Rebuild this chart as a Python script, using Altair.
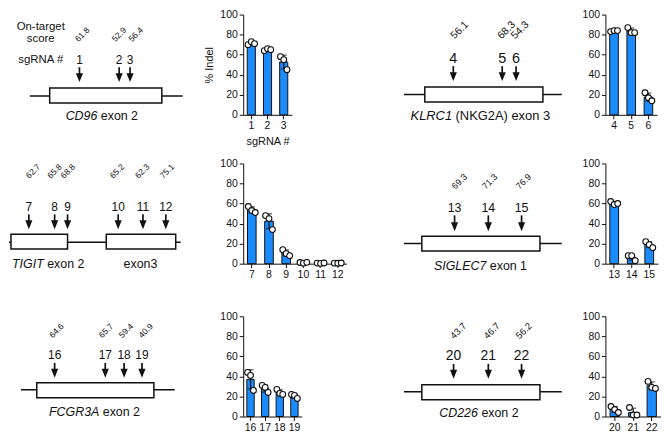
import altair as alt
import pandas as pd

FONT = "Liberation Sans"
BLUE = "#1A8CFF"
INK = "#111111"

# ---------------- data ----------------
cd96_sg = ["1", "2", "3"]
cd96_score = ["61.8", "52.9", "56.4"]
cd96_indel = [[70, 73, 71], [64, 66, 65], [58, 55, 45]]

klrc1_sg = ["4", "5", "6"]
klrc1_score = ["56.1", "68.3", "54.3"]
klrc1_indel = [[83, 84, 84], [87, 82, 82], [22, 17, 14]]

tigit_sg = ["7", "8", "9", "10", "11", "12"]
tigit_score = ["62.7", "65.8", "68.8", "65.2", "62.3", "75.1"]
tigit_indel = [[57, 53, 51], [48, 45, 34], [14, 10, 8], [1.2, 0.5, 1.3], [0.6, 0.3, 0.7], [0.5, 0.4, 0.7]]

siglec7_sg = ["13", "14", "15"]
siglec7_score = ["69.3", "71.3", "76.9"]
siglec7_indel = [[62, 59, 60], [8, 8, 3], [22, 19, 16]]

fcgr3a_sg = ["16", "17", "18", "19"]
fcgr3a_score = ["64.6", "65.7", "59.4", "40.9"]
fcgr3a_indel = [[44, 41, 26], [31, 29, 24], [27, 23, 22], [22, 21, 18]]

cd226_sg = ["20", "21", "22"]
cd226_score = ["43.7", "46.7", "56.2"]
cd226_indel = [[10, 7, 4], [9, 1.5, 1.5], [35, 29, 28]]

# ---------------- gene-schematic layout (local pixel frame of each panel) ----------------
D_CD96 = dict(w=236, h=150, line=(21, 175, 82), boxes=[(41, 154)], box_y=(74, 89),
              arrow_x=[71, 111, 122], shaft=(53, 68), num_y=46, num_fs=12,
              score_x=[70, 107, 124], score_y=28, score_fs=8.5,
              labels=[("CD96", "exon 2", 89, 102)], plain=[], label_fs=12.5)
D_KLRC1 = dict(w=261, h=150, line=(58, 217, 80.5), boxes=[(79, 198)], box_y=(73, 88),
               arrow_x=[107.7, 157, 171], shaft=(52, 67), num_y=45, num_fs=14.5,
               score_x=[109, 156.3, 170], score_y=25.2, score_fs=10.5,
               labels=[("KLRC1", "(NKG2A) exon 3", 106.5, 102)], plain=[], label_fs=13)
D_TIGIT = dict(w=236, h=154, line=(0, 173, 79.3), boxes=[(2, 59), (98, 168)], box_y=(71.3, 86.3),
               arrow_x=[20, 46, 59, 110, 135, 158], shaft=(51.3, 66.3), num_y=44.3, num_fs=12,
               score_x=[20.5, 42, 55.5, 105, 130.5, 155.5], score_y=15.6, score_fs=8.5,
               labels=[("TIGIT", "exon 2", 35, 101.3)], plain=[("exon3", 132.5, 101.3)], label_fs=12.5)
D_SIGLEC7 = dict(w=261, h=154, line=(58, 217, 80.7), boxes=[(76, 195)], box_y=(73.3, 88.3),
                 arrow_x=[109, 143, 176.5], shaft=(52.3, 68.3), num_y=45.3, num_fs=12.5,
                 score_x=[109.8, 140.4, 174.3], score_y=26.5, score_fs=9,
                 labels=[("SIGLEC7", "exon 1", 141, 103.3)], plain=[], label_fs=12.5)
D_FCGR3A = dict(w=236, h=101, line=(12, 167, 74), boxes=[(28, 146)], box_y=(67, 82),
                arrow_x=[46, 97, 116, 134], shaft=(47, 62), num_y=39, num_fs=12,
                score_x=[44, 94, 114, 134], score_y=22.3, score_fs=8.5,
                labels=[("FCGR3A", "exon 2", 91, 96)], plain=[], label_fs=12.5)
D_CD226 = dict(w=261, h=101, line=(58, 217, 76), boxes=[(76, 195)], box_y=(69, 84),
               arrow_x=[108, 143, 176.5], shaft=(48, 63), num_y=40, num_fs=14,
               score_x=[108.4, 142.2, 174.5], score_y=23.3, score_fs=9.5,
               labels=[("CD226", "exon 2", 132.5, 98)], plain=[], label_fs=12.5)

ARROW_HEAD = "M-0.8,-1L0.8,-1L0,1Z"
HEAD_H = 9


def diagram(sg, scores, L, side_text=False):
    W, H = L["w"], L["h"]
    xs = alt.Scale(domain=[0, W], nice=False, zero=False)
    ys = alt.Scale(domain=[0, H], nice=False, zero=False, reverse=True)

    def X(f):
        return alt.X(f, type="quantitative", scale=xs, axis=None)

    def Y(f):
        return alt.Y(f, type="quantitative", scale=ys, axis=None)

    layers = []
    x1, x2, ly = L["line"]
    line_df = pd.DataFrame([{"x": x1, "x2": x2, "y": ly}])
    layers.append(alt.Chart(line_df).mark_rule(color=INK, strokeWidth=1.5).encode(
        x=X("x"), x2=alt.X2("x2"), y=Y("y")))

    box_df = pd.DataFrame([{"x": a, "x2": b, "y": L["box_y"][0], "y2": L["box_y"][1]} for a, b in L["boxes"]])
    layers.append(alt.Chart(box_df).mark_rect(fill="white", stroke=INK, strokeWidth=1.5).encode(
        x=X("x"), x2=alt.X2("x2"), y=Y("y"), y2=alt.Y2("y2")))

    top, tip = L["shaft"]
    n = len(sg)
    arr_df = pd.DataFrame({"x": L["arrow_x"], "y": [top] * n, "y2": [tip - HEAD_H / 2] * n,
                           "hy": [tip - HEAD_H / 2] * n, "sg": sg, "ny": [L["num_y"]] * n})
    layers.append(alt.Chart(arr_df).mark_rule(color=INK, strokeWidth=1.7).encode(
        x=X("x"), y=Y("y"), y2=alt.Y2("y2")))
    layers.append(alt.Chart(arr_df).mark_point(shape=ARROW_HEAD, filled=True, color=INK, size=81,
                                               opacity=1, strokeWidth=0).encode(x=X("x"), y=Y("hy")))
    layers.append(alt.Chart(arr_df).mark_text(font=FONT, fontSize=L["num_fs"], color=INK,
                                              baseline="middle", align="center").encode(
        x=X("x"), y=Y("ny"), text="sg:N"))

    sc_df = pd.DataFrame({"x": L["score_x"], "y": [L["score_y"]] * len(scores), "t": scores})
    layers.append(alt.Chart(sc_df).mark_text(font=FONT, fontSize=L["score_fs"], color=INK, angle=315,
                                             align="left", baseline="alphabetic").encode(
        x=X("x"), y=Y("y"), text="t:N"))

    for ital, rest, sx, sy in L["labels"]:
        df = pd.DataFrame([{"x": sx, "y": sy, "t": ital, "x2": sx + 3.5, "t2": rest}])
        layers.append(alt.Chart(df).mark_text(font=FONT, fontSize=L["label_fs"], fontStyle="italic",
                                              color=INK, align="right", baseline="middle").encode(
            x=X("x"), y=Y("y"), text="t:N"))
        layers.append(alt.Chart(df).mark_text(font=FONT, fontSize=L["label_fs"], color=INK,
                                              align="left", baseline="middle").encode(
            x=X("x2"), y=Y("y"), text="t2:N"))
    for t, px, py in L["plain"]:
        df = pd.DataFrame([{"x": px, "y": py, "t": t}])
        layers.append(alt.Chart(df).mark_text(font=FONT, fontSize=L["label_fs"], color=INK,
                                              align="center", baseline="middle").encode(
            x=X("x"), y=Y("y"), text="t:N"))

    if side_text:
        df = pd.DataFrame([{"x": 32, "y": 13, "t": "On-target"}, {"x": 32, "y": 25, "t": "score"},
                           {"x": 32, "y": 46, "t": "sgRNA #"}])
        layers.append(alt.Chart(df).mark_text(font=FONT, fontSize=11.5, color=INK,
                                              align="center", baseline="middle").encode(
            x=X("x"), y=Y("y"), text="t:N"))

    return alt.layer(*layers).properties(width=W, height=H)


def bar_panel(sg, reps, width, ytitle=None, xtitle=None):
    n = len(sg)
    rows = [{"sg": s, "rep": j, "val": v, "px": i + 0.5 + (j - 1) * 0.2}
            for i, (s, vals) in enumerate(zip(sg, reps)) for j, v in enumerate(vals)]
    df = pd.DataFrame(rows)
    xscale = alt.Scale(paddingInner=0.5, paddingOuter=0.25)
    xaxis = alt.Axis(title=xtitle, labelAngle=0, tickSize=4, labelPadding=2, labelFontSize=10.5,
                     titleFontSize=11, titleFontWeight="normal", titlePadding=4, domainColor=INK,
                     tickColor=INK, labelColor=INK, titleColor=INK, labelFont=FONT, titleFont=FONT,
                     grid=False)
    yaxis = alt.Axis(title=ytitle, values=[0, 20, 40, 60, 80, 100], tickSize=4, labelPadding=2,
                     labelFontSize=10.5, titleFontSize=11, titleFontWeight="normal", titlePadding=5,
                     domainColor=INK, tickColor=INK, labelColor=INK, titleColor=INK, labelFont=FONT,
                     titleFont=FONT, grid=False)
    yscale = alt.Scale(domain=[0, 100], nice=False)
    base = alt.Chart(df)
    bars = base.mark_bar(fill=BLUE, stroke=INK, strokeWidth=1).encode(
        x=alt.X("sg:N", sort=sg, scale=xscale, axis=xaxis),
        y=alt.Y("mean(val):Q", scale=yscale, axis=yaxis))
    err = base.mark_errorbar(extent="stdev", ticks={"size": 6}, color=INK, thickness=1.2).encode(
        x=alt.X("sg:N", sort=sg, scale=xscale, axis=None),
        y=alt.Y("val:Q", scale=yscale, axis=yaxis))
    pts = base.mark_point(shape="circle", filled=True, fill="white", stroke=INK, strokeWidth=1.1,
                          size=34, opacity=1).encode(
        x=alt.X("px:Q", scale=alt.Scale(domain=[0, n], nice=False, zero=False), axis=None),
        y=alt.Y("val:Q", scale=yscale, axis=yaxis))
    return alt.layer(bars, err, pts).resolve_scale(x="independent").properties(width=width, height=101)


panels = [
    diagram(cd96_sg, cd96_score, D_CD96, side_text=True),
    bar_panel(cd96_sg, cd96_indel, 49, ytitle="% Indel", xtitle="sgRNA #"),
    diagram(klrc1_sg, klrc1_score, D_KLRC1),
    bar_panel(klrc1_sg, klrc1_indel, 52),
    diagram(tigit_sg, tigit_score, D_TIGIT),
    bar_panel(tigit_sg, tigit_indel, 104),
    diagram(siglec7_sg, siglec7_score, D_SIGLEC7),
    bar_panel(siglec7_sg, siglec7_indel, 53),
    diagram(fcgr3a_sg, fcgr3a_score, D_FCGR3A),
    bar_panel(fcgr3a_sg, fcgr3a_indel, 59),
    diagram(cd226_sg, cd226_score, D_CD226),
    bar_panel(cd226_sg, cd226_indel, 56),
]

chart = alt.ConcatChart(
    concat=panels, columns=4, spacing=0, bounds="flush", padding=0,
).configure_view(stroke=None)

chart.save("out.html", embed_options={"renderer": "svg", "actions": False})
